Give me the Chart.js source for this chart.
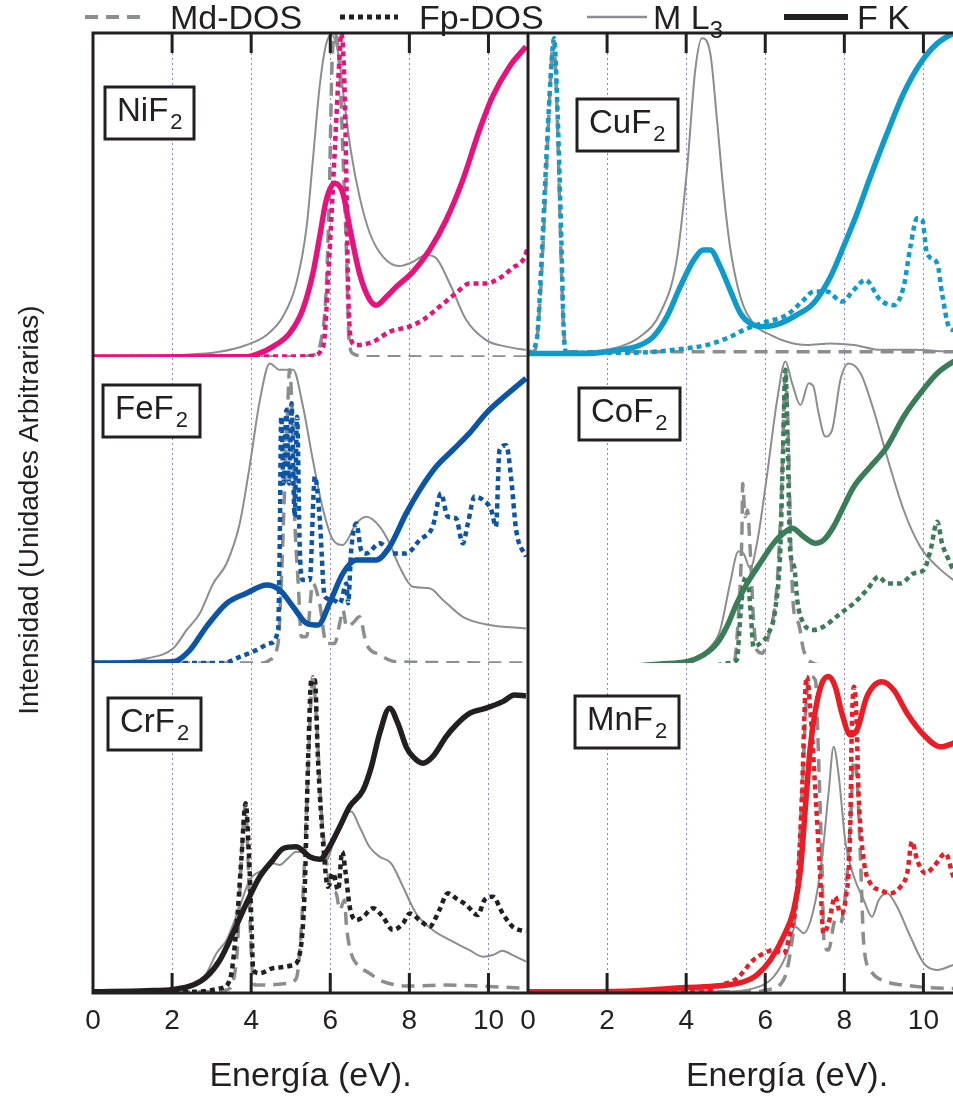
<!DOCTYPE html>
<html>
<head>
<meta charset="utf-8">
<script src="https://cdn.jsdelivr.net/npm/chart.js@4.4.1/dist/chart.umd.min.js"></script>
<style>
  body { margin: 0; background: #fff; }
  #wrap { position: relative; width: 953px; height: 1097px; overflow: hidden; }
  #chart { position: absolute; left: 0; top: 0; }
  #legend { position: absolute; left: 0; top: 0; width: 953px; height: 34px; font: 34px "Liberation Sans", Arial, sans-serif; color: #231f20; }
  #legend svg { position: absolute; top: 0; }
  #legend span { position: absolute; top: 0; line-height: 34px; white-space: nowrap; }
  #legend sub { font-size: 24px; vertical-align: -9px; line-height: 0; }
</style>
</head>
<body>
<div id="wrap">
  <canvas id="chart" width="1046" height="1097"></canvas>
  <div id="legend"></div>
</div>
<script>
const ink = '#231f20';
const gray = '#8c8d8f';
const gridBlue = '#8d84d6';

// [energy (eV), intensity (% of the panel height)]
// NiF2
const niF2_Md = [[0,0],[5.0,0],[5.56,0.6],[5.77,5.2],[5.9,21.7],[5.98,52.6],[6.04,88.6],[6.11,99.9],[6.24,88.6],[6.32,62.9],[6.41,32],[6.47,6.3],[6.57,1.1],[7.0,0.1],[11,0]];
const niF2_Fp = [[0,0],[5.5,0.2],[5.82,3.2],[5.98,32],[6.11,62.9],[6.24,93.7],[6.28,99.9],[6.36,83.4],[6.41,52.6],[6.45,21.7],[6.53,5.2],[6.66,3.7],[7.08,4.7],[7.5,7.8],[8.0,9.4],[8.34,11.4],[8.76,15.5],[9.18,19.7],[9.52,22.7],[9.94,22.7],[10.28,24.3],[10.6,27.4],[10.9,30.5],[11,34]];
const niF2_ML3 = [[0,0],[2.2,0.6],[3.2,1.6],[3.88,3.7],[4.39,6.8],[4.8,12.4],[5.14,22.7],[5.4,40],[5.56,60.8],[5.73,83.4],[5.9,96.8],[6.03,99.4],[6.2,93.7],[6.36,78.3],[6.53,62.9],[6.74,49.5],[7.0,38.2],[7.33,31],[7.75,28.1],[8.09,29.4],[8.43,31.5],[8.68,30.5],[9.02,22.7],[9.44,11.4],[9.94,5.2],[10.45,3.2],[10.95,2.2]];
const niF2_FK = [[0,0],[3.88,0.1],[4.2,1.1],[4.55,3.2],[4.97,7.3],[5.3,14.5],[5.56,25.8],[5.73,37],[5.9,48.5],[6.11,53.6],[6.32,50.5],[6.49,40],[6.74,25.8],[7.0,17.6],[7.16,16],[7.42,18.6],[7.67,21.7],[8.09,26.3],[8.51,33],[8.93,42.3],[9.35,54.6],[9.77,70],[10.1,80.3],[10.53,89.6],[10.95,95.8]];
// CuF2
const cuF2_Md = [[0,1.1],[0.18,2.2],[0.3,16.6],[0.43,47.4],[0.56,83.4],[0.64,97.8],[0.73,78.3],[0.81,42.3],[0.89,11.4],[0.98,1.6],[11,1.6]];
const cuF2_Fp = [[0,1.1],[0.22,5.2],[0.35,32],[0.47,62.9],[0.6,91.7],[0.66,98.4],[0.74,78.3],[0.83,42.3],[0.91,6.3],[0.98,1.3],[2.33,1.3],[3.17,1.6],[4.02,2.7],[4.52,3.7],[5.03,5.8],[5.54,8.8],[6.04,10.9],[6.55,13],[6.97,17.6],[7.22,20.2],[7.56,20.2],[7.94,17.1],[8.24,20.7],[8.53,23.8],[8.91,17.6],[9.25,16],[9.5,21.7],[9.67,34],[9.84,42.8],[9.97,42.3],[10.09,32],[10.35,28.9],[10.47,19.7],[10.64,9.4],[10.76,8.3],[11,8]];
const cuF2_ML3 = [[0,0.6],[1.49,1.6],[2.33,3.2],[2.84,6.3],[3.34,13.5],[3.76,29.9],[4.02,57.7],[4.23,88.6],[4.4,98.4],[4.61,93.7],[4.78,73.1],[4.95,50.5],[5.11,34],[5.37,18.6],[5.7,10.4],[6.13,6.8],[6.55,4.7],[7.05,3.7],[7.65,4.2],[8.24,3.7],[8.91,2.2],[9.76,2.2],[10.76,1.6],[11,1.6]];
const cuF2_FK = [[0,1.1],[1.49,1.1],[2.33,2.2],[2.84,3.7],[3.17,6.3],[3.51,12.4],[3.85,21.7],[4.19,29.9],[4.44,33],[4.61,33],[4.86,27.9],[5.11,20.7],[5.37,13.5],[5.62,10.4],[5.96,9.4],[6.38,10.4],[6.8,13],[7.22,16.6],[7.65,24.8],[7.98,34.1],[8.32,44.3],[8.66,55.7],[9.08,69],[9.5,81.4],[9.92,90.6],[10.35,96.8],[10.76,99.9],[11,101]];
// FeF2
const feF2_Md = [[0,0],[4.3,0],[4.47,1],[4.68,6.4],[4.76,26],[4.85,58.7],[4.93,86],[4.97,95.8],[5.04,80.5],[5.1,47.8],[5.19,26],[5.27,8.6],[5.4,8.6],[5.56,26],[5.73,19.5],[5.9,6.4],[6.11,6.4],[6.24,13],[6.32,17.3],[6.41,11.9],[6.57,13],[6.74,15.1],[6.91,6.4],[7.25,2.7],[7.67,0.4],[11,0]];
const feF2_Fp = [[0,0],[3.29,0],[3.71,2],[4.13,4.2],[4.47,6.4],[4.68,10.8],[4.72,36.9],[4.76,80.5],[4.82,58.7],[4.89,82.7],[4.96,58.7],[5.02,84.9],[5.1,47.8],[5.16,80.5],[5.23,36.9],[5.31,27.1],[5.48,27.1],[5.61,60.9],[5.73,47.8],[5.86,21.7],[6.07,20.6],[6.24,19.5],[6.41,26],[6.45,19.5],[6.53,36.9],[6.66,45.6],[6.78,36.9],[6.91,35.8],[7.25,39.1],[7.58,35.8],[7.92,35.8],[8.26,40.2],[8.59,44.6],[8.8,55.4],[8.97,47.8],[9.18,47.3],[9.35,39.1],[9.48,45.6],[9.65,54.4],[9.86,53.3],[10.07,50],[10.19,44.6],[10.28,69.6],[10.45,71.2],[10.57,60.9],[10.7,43.5],[10.95,34.7]];
const feF2_ML3 = [[0,0],[1.36,1.5],[2.03,4.8],[2.37,10.8],[2.7,16.2],[3.04,26],[3.38,32.6],[3.71,45.6],[3.96,64.2],[4.22,85.9],[4.47,97.9],[4.72,95.8],[5.06,95.8],[5.31,83.8],[5.56,66.3],[5.82,50],[6.07,40.2],[6.32,38.6],[6.66,45.6],[6.91,47.8],[7.25,44.6],[7.5,39.1],[7.75,31.5],[8.09,24.9],[8.51,24.4],[8.85,20.6],[9.35,15.1],[10.03,12.4],[10.95,11.3]];
const feF2_FK = [[0,0],[2.03,0.4],[2.45,4.2],[2.87,11.9],[3.38,19.5],[3.88,22.8],[4.39,25.5],[4.72,23.9],[5.06,18.4],[5.4,13],[5.69,12.4],[5.98,19.5],[6.32,29.3],[6.66,33.7],[7.16,33.7],[7.5,38],[7.92,48.9],[8.26,56.5],[8.68,64.2],[9.1,69.6],[9.52,75.1],[9.94,81.6],[10.45,87.6],[10.95,93]];
// CoF2
const coF2_Md = [[0,-1],[5.2,-0.5],[5.32,15.1],[5.41,42.4],[5.43,58.7],[5.49,47.8],[5.55,50],[5.62,36.9],[5.7,15.1],[5.79,4.2],[5.92,3.2],[6.08,8.6],[6.3,26],[6.42,58.7],[6.51,95.8],[6.59,69.6],[6.65,36.9],[6.72,17.3],[6.84,13],[6.97,4.2],[7.22,-0.1],[7.81,-1],[11,-1.2]];
const coF2_Fp = [[0,-1.2],[3.17,-1.4],[4.52,-1.4],[5.03,-0.1],[5.28,1],[5.37,15.1],[5.45,26],[5.54,28.2],[5.64,15.1],[5.7,5.3],[5.87,6.4],[6.08,9.7],[6.25,17.3],[6.38,36.9],[6.45,69.6],[6.51,95.8],[6.57,69.6],[6.63,36.9],[6.73,31.5],[6.82,19.5],[6.97,13],[7.22,10.8],[7.48,11.9],[7.9,16.2],[8.24,19.5],[8.57,23.9],[8.87,28.2],[9.08,26],[9.42,26],[9.76,29.3],[10.01,30.4],[10.18,36.9],[10.35,46.2],[10.47,39.1],[10.64,33.7],[10.76,30.4],[11,28]];
const coF2_ML3 = [[0,-1.2],[2.33,-1],[3.6,-0.1],[4.27,2.1],[4.61,5.3],[4.86,10.8],[5.11,26],[5.32,36.4],[5.45,35.8],[5.62,30.9],[5.79,39.1],[6.04,60.9],[6.3,85.9],[6.51,98.5],[6.68,91.4],[6.89,84.3],[7.1,91.4],[7.22,90.3],[7.35,81.6],[7.52,74],[7.69,76.1],[7.9,92.5],[8.11,97.9],[8.41,94.7],[8.74,82.7],[9.08,67.4],[9.5,50],[9.92,38],[10.35,31.5],[10.76,27.1],[11,25]];
const coF2_FK = [[0,-1],[2.33,-1.2],[3.34,-0.3],[4.02,0.4],[4.44,2.6],[4.78,6.4],[5.03,11.9],[5.28,19.5],[5.54,26],[5.87,32.6],[6.21,39.1],[6.46,42.4],[6.68,44],[6.97,41.3],[7.27,39.1],[7.48,40.2],[7.73,44.6],[7.98,51.1],[8.24,57.6],[8.66,64.2],[9.08,70.7],[9.5,80.5],[9.92,88.1],[10.35,94.7],[10.76,98.5],[11,100]];
// CrF2
const crF2_Md = [[0,0.4],[3.04,0.4],[3.38,0.9],[3.63,10],[3.75,40.3],[3.86,57.5],[3.92,40.3],[4.01,10],[4.09,2.4],[4.39,2.4],[4.89,2.9],[5.14,4.4],[5.27,20.1],[5.4,55.5],[5.52,90.8],[5.56,95.9],[5.66,80.7],[5.77,55.5],[5.9,40.3],[6.03,31.2],[6.15,30.2],[6.24,25.2],[6.36,28.2],[6.41,20.1],[6.53,12],[6.74,8],[6.99,6],[7.25,3.9],[7.67,2.4],[8.09,2.1],[8.93,2.4],[9.77,2.1],[10.95,1.4]];
const crF2_Fp = [[0,0.4],[2.62,0.4],[3.21,1.4],[3.46,3.9],[3.63,20.1],[3.75,40.3],[3.86,57.5],[3.95,40.3],[4.01,20.1],[4.05,7],[4.22,6],[4.55,7.5],[5.06,8.5],[5.23,12],[5.35,30.2],[5.44,70.6],[5.52,94.8],[5.61,94.8],[5.69,70.6],[5.82,45.4],[5.94,32.2],[6.07,36.3],[6.2,31.2],[6.3,42.8],[6.39,36.3],[6.49,26.2],[6.66,22.1],[6.83,23.1],[7.08,25.7],[7.33,23.1],[7.58,19.1],[7.84,21.1],[8.01,24.1],[8.26,22.1],[8.51,20.1],[8.76,25.2],[8.97,30.2],[9.18,28.7],[9.44,26.7],[9.73,23.6],[9.9,28.2],[10.11,29.2],[10.36,24.1],[10.61,20.1],[10.95,18.6]];
const crF2_ML3 = [[0,0.4],[2.2,0.9],[2.62,2.9],[2.87,6],[3.12,12],[3.38,16.1],[3.71,26.2],[3.96,34.2],[4.3,37.3],[4.55,39.3],[4.72,38.8],[4.93,40.8],[5.14,42.8],[5.4,42.3],[5.65,40.3],[5.9,40.3],[6.15,48.4],[6.41,54.4],[6.53,55],[6.74,50.4],[6.99,44.3],[7.25,41.3],[7.54,39.3],[7.84,32.2],[8.17,24.1],[8.59,19.1],[9.1,15.6],[9.52,13],[9.86,11],[10.11,11.5],[10.36,12.8],[10.61,11.5],[10.95,9.5]];
const crF2_FK = [[0,0.4],[1.36,0.7],[2.03,1.1],[2.53,2.4],[2.87,4.9],[3.21,10],[3.54,18.1],[3.88,27.2],[4.22,35.3],[4.55,40.3],[4.81,43.8],[5.14,44.3],[5.48,41.3],[5.73,40.5],[5.98,44.3],[6.24,50.4],[6.49,56.5],[6.83,61.5],[7.04,68.6],[7.25,78.7],[7.5,86.3],[7.71,81.7],[7.92,74.6],[8.09,71.6],[8.34,69.6],[8.59,71.6],[8.93,77.7],[9.18,81.2],[9.52,84.7],[9.94,86.3],[10.36,88.3],[10.66,90.3],[10.95,90]];
// MnF2
const mnF2_Md = [[0,0.4],[5.7,0.4],[6.04,0.9],[6.46,3.9],[6.63,12],[6.8,30.2],[6.93,60.5],[7.05,90.8],[7.14,95.9],[7.27,94.8],[7.35,70.6],[7.43,40.3],[7.49,15.1],[7.6,13],[7.77,22.1],[7.9,21.1],[8.03,30.2],[8.15,50.4],[8.24,70.6],[8.32,65.6],[8.41,40.3],[8.49,15.1],[8.66,7],[9.08,3.4],[9.5,2.4],[10.76,1.4],[11,1.4]];
const mnF2_Fp = [[0,0.4],[4.44,0.4],[4.86,2.4],[5.28,4.4],[5.7,10],[5.96,12],[6.21,13],[6.46,12],[6.63,18.1],[6.8,30.2],[6.93,60.5],[7.01,90.8],[7.05,95.9],[7.14,85.8],[7.27,60.5],[7.39,35.3],[7.47,18.1],[7.6,21.1],[7.77,29.2],[7.9,24.1],[8.03,28.2],[8.15,50.4],[8.19,80.7],[8.24,92.8],[8.3,85.8],[8.36,60.5],[8.49,40.3],[8.66,33.2],[8.91,31.2],[9.16,30.2],[9.42,32.2],[9.59,36.3],[9.71,45.9],[9.84,40.3],[10.05,36.3],[10.26,38.3],[10.56,42.3],[10.76,35.3],[11,32]];
const mnF2_ML3 = [[0,0.4],[4.86,0.4],[5.7,1.4],[6.21,4.9],[6.55,12],[6.76,20.1],[6.97,18.1],[7.22,25.2],[7.43,40.3],[7.6,60.5],[7.73,74.6],[7.86,65.6],[8.03,45.4],[8.24,35.3],[8.49,28.2],[8.7,23.1],[8.87,28.2],[9.08,30.2],[9.33,26.2],[9.67,17.1],[10.01,9],[10.35,7],[10.76,8.5],[11,9]];
const mnF2_FK = [[0,0.4],[1.49,0.4],[2.75,0.7],[3.59,1.4],[4.44,1.9],[5.03,2.4],[5.45,3.4],[5.79,5.5],[6.13,10],[6.46,17.1],[6.72,25.2],[6.89,37.3],[7.01,55.5],[7.14,74.6],[7.27,85.8],[7.43,93.8],[7.6,95.9],[7.77,92.8],[7.94,84.7],[8.15,78.2],[8.32,79.7],[8.57,89.8],[8.95,94.3],[9.25,91.8],[9.59,84.7],[10.01,78.2],[10.43,74.6],[10.76,75.7],[11,77]];

const xTicks = [0, 2, 4, 6, 8, 10, 12];

// line look of each kind of curve (also used by the legend)
const lineStyles = {
  Md:  {label: 'Md-DOS', gray: true,  width: 3.5, dash: [13, 8], order: 2},
  Fp:  {label: 'Fp-DOS', gray: false, width: 4.5, dash: [5, 4],  order: 1},
  ML3: {label: 'M L', sub: '3', gray: true, width: 2, dash: [], order: 3},
  FK:  {label: 'F K',    gray: false, width: 5.5, dash: [],      order: 0}
};

// panels: column axis, row axis, colour, label box placement
const panels = [
  {name: 'NiF', sub: '2', color: '#e8127c', x: 'xL', y: 'yTop', box: [12, 54, 89], curves: {Md: niF2_Md, Fp: niF2_Fp, ML3: niF2_ML3, FK: niF2_FK}},
  {name: 'CuF', sub: '2', color: '#0d9bcb', x: 'xR', y: 'yTop', box: [49, 66, 101], curves: {Md: cuF2_Md, Fp: cuF2_Fp, ML3: cuF2_ML3, FK: cuF2_FK}},
  {name: 'FeF', sub: '2', color: '#0b55a6', x: 'xL', y: 'yMid', box: [10, 28, 97], curves: {Md: feF2_Md, Fp: feF2_Fp, ML3: feF2_ML3, FK: feF2_FK}},
  {name: 'CoF', sub: '2', color: '#3a7d58', x: 'xR', y: 'yMid', box: [51, 31, 101], curves: {Md: coF2_Md, Fp: coF2_Fp, ML3: coF2_ML3, FK: coF2_FK}},
  {name: 'CrF', sub: '2', color: '#231f20', x: 'xL', y: 'yBot', box: [15, 35, 93], curves: {Md: crF2_Md, Fp: crF2_Fp, ML3: crF2_ML3, FK: crF2_FK}},
  {name: 'MnF', sub: '2', color: '#ec1c24', x: 'xR', y: 'yBot', box: [47, 33, 104], curves: {Md: mnF2_Md, Fp: mnF2_Fp, ML3: mnF2_ML3, FK: mnF2_FK}}
];

const datasets = [];
panels.forEach(function(p) {
  Object.keys(lineStyles).forEach(function(kind) {
    const st = lineStyles[kind];
    datasets.push({
      label: p.name + p.sub + ' ' + st.label + (st.sub || ''),
      data: p.curves[kind].map(function(pt) { return {x: pt[0], y: pt[1]}; }),
      xAxisID: p.x,
      yAxisID: p.y,
      borderColor: st.gray ? gray : p.color,
      borderWidth: st.width,
      borderDash: st.dash,
      pointRadius: 0,
      fill: false,
      cubicInterpolationMode: 'monotone',
      order: st.order
    });
  });
});

const sans = '"Liberation Sans", Arial, sans-serif';

function xScale(max, weight) {
  return {
    type: 'linear', position: 'bottom', stack: 'energy', stackWeight: weight,
    min: 0, max: max,
    afterBuildTicks: function(s) { s.ticks = xTicks.filter(v => v <= max).map(v => ({value: v})); },
    ticks: {autoSkip: false, maxRotation: 0, padding: 11, color: ink, font: {family: sans, size: 28}},
    grid: {color: gridBlue, lineWidth: 1, drawTicks: false},
    border: {display: false, dash: [2, 3]},
    title: {display: true, text: 'Energía (eV).', color: ink, font: {family: sans, size: 34}, padding: 0},
    afterFit: function(s) {
      s.height = 104;
      s.paddingLeft = 0;
      s.paddingRight = 0;
    }
  };
}

function yScale(weight, order, withTitle) {
  return {
    type: 'linear', position: 'left', stack: 'rows', stackWeight: weight, weight: order,
    min: 0, max: 100,
    ticks: {display: false},
    grid: {display: false},
    border: {display: false},
    title: {
      display: withTitle,
      text: 'Intensidad (Unidades Arbitrarias)',
      color: ink,
      font: {family: sans, size: 28},
      padding: {top: 13, bottom: 0}
    },
    afterFit: function(s) {
      s.width = 93;
      s.paddingTop = 0;
      s.paddingBottom = 0;
    }
  };
}

// black frame, column divider and inward tick marks
const frame = {
  id: 'frame',
  afterDatasetsDraw(chart) {
    const {ctx, chartArea: a, scales} = chart;
    ctx.save();
    ctx.strokeStyle = ink;
    ctx.lineWidth = 3;
    ctx.beginPath();
    ctx.moveTo(a.left, a.top); ctx.lineTo(a.right, a.top);
    ctx.moveTo(a.left, a.bottom); ctx.lineTo(a.right, a.bottom);
    ctx.moveTo(a.left, a.top - 1.5); ctx.lineTo(a.left, a.bottom + 1.5);
    ctx.moveTo(scales.xL.right, a.top); ctx.lineTo(scales.xL.right, a.bottom);
    ['xL', 'xR'].forEach(function(id) {
      const s = scales[id];
      s.ticks.forEach(function(t) {
        if (t.value === 0) return;
        const x = s.getPixelForValue(t.value);
        ctx.moveTo(x, a.top); ctx.lineTo(x, a.top + 20);
        ctx.moveTo(x, a.bottom); ctx.lineTo(x, a.bottom - 20);
      });
    });
    ctx.stroke();
    ctx.restore();
  }
};

// compound name boxes
const panelTags = {
  id: 'panelTags',
  afterDatasetsDraw(chart) {
    const ctx = chart.ctx;
    panels.forEach(function(p) {
      const left = chart.scales[p.x].left + p.box[0];
      const top = chart.scales[p.y].top + p.box[1];
      const w = p.box[2], h = 52;
      ctx.save();
      ctx.fillStyle = '#fff';
      ctx.fillRect(left, top, w, h);
      ctx.lineWidth = 3;
      ctx.strokeStyle = ink;
      ctx.strokeRect(left, top, w, h);
      ctx.fillStyle = ink;
      ctx.textBaseline = 'alphabetic';
      ctx.font = '33px ' + sans;
      ctx.fillText(p.name, left + 12, top + 34);
      const tw = ctx.measureText(p.name).width;
      ctx.font = '22px ' + sans;
      ctx.fillText(p.sub, left + 12 + tw + 2, top + 42);
      ctx.restore();
    });
  }
};

new Chart(document.getElementById('chart'), {
  type: 'line',
  data: {datasets: datasets},
  options: {
    responsive: false,
    animation: false,
    layout: {padding: {top: 33, left: 0, right: 0, bottom: 0}},
    scales: {
      xL: xScale(11, 435),
      xR: xScale(13.1, 518),
      yBot: yScale(330, 1, false),
      yMid: yScale(306, 2, true),
      yTop: yScale(324, 3, false)
    },
    plugins: {
      legend: {display: false},
      tooltip: {enabled: false}
    }
  },
  plugins: [frame, panelTags]
});

// legend row across the top
const legendPlaces = [
  {kind: 'Md', x: 85, w: 61, tx: 170},
  {kind: 'Fp', x: 340, w: 58, tx: 419},
  {kind: 'ML3', x: 587, w: 60, tx: 653},
  {kind: 'FK', x: 784, w: 64, tx: 857}
];
const legend = document.getElementById('legend');
legendPlaces.forEach(function(item) {
  const st = lineStyles[item.kind];
  const col = st.gray ? gray : ink;
  const svg = '<svg width="' + item.w + '" height="34" style="left:' + item.x + 'px">' +
    '<line x1="0" y1="17" x2="' + item.w + '" y2="17" stroke="' + col + '" stroke-width="' + (st.width + 0.5) + '"' +
    (st.dash.length ? ' stroke-dasharray="' + st.dash.join(' ') + '"' : '') + '/></svg>';
  legend.insertAdjacentHTML('beforeend', svg +
    '<span style="left:' + item.tx + 'px">' + st.label + (st.sub ? '<sub>' + st.sub + '</sub>' : '') + '</span>');
});
</script>
</body>
</html>
